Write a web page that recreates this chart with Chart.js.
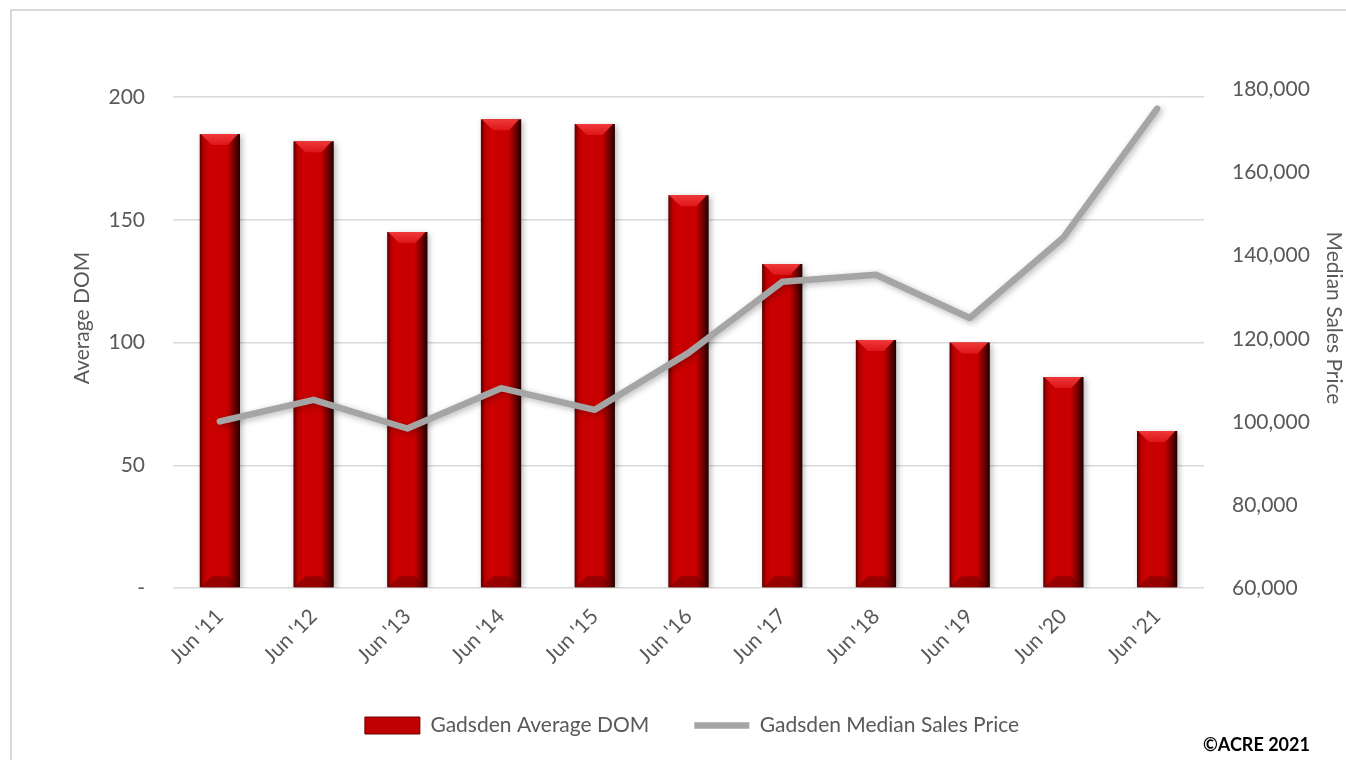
<!DOCTYPE html>
<html>
<head>
<meta charset="utf-8">
<title>Gadsden Average DOM / Median Sales Price</title>
<script src="https://cdn.jsdelivr.net/npm/chart.js@4.4.0/dist/chart.umd.min.js"></script>
<style>
  html, body { margin: 0; padding: 0; background: #fff; overflow: hidden; }
  #wrap { position: relative; width: 1346px; height: 760px; }
  #frame { position: absolute; left: 10px; top: 9px; width: 1400px; height: 800px; border: 2px solid #d9d9d9; pointer-events: none; }
  #credit { position: absolute; left: 1203px; top: 733px; font: bold 18px Lato, sans-serif; color: #000; }
</style>
</head>
<body>
<div id="wrap">
  <canvas id="chart" width="1346" height="760"></canvas>
  <div id="frame"></div>
  <div id="credit">©ACRE 2021</div>
</div>
<script>
// data
const labels = ["Jun '11", "Jun '12", "Jun '13", "Jun '14", "Jun '15", "Jun '16",
                "Jun '17", "Jun '18", "Jun '19", "Jun '20", "Jun '21"];
const avgDom = [185, 182, 145, 191, 189, 160, 132, 101, 100, 86, 64];
const medianPrice = [100100, 105300, 98400, 108100, 102900, 116600,
                     133700, 135400, 125000, 144400, 175400];
const domTicks = [0, 50, 100, 150, 200];
const priceTicks = [60000, 80000, 100000, 120000, 140000, 160000, 180000];

const BAR_PCT = 0.43;
const textColor = '#595959';
const font = { family: 'Lato, "Open Sans", sans-serif', size: 21 };

// red bar with darker edges, like the bevel in the excel chart
function barFill(c) {
  const xs = c.chart.scales.x;
  if (!xs || c.type !== 'data') return '#c00000';
  const cx = xs.getPixelForValue(c.dataIndex);
  const w = xs.width / labels.length * BAR_PCT;
  if (!isFinite(cx) || !isFinite(w) || w <= 0) return '#c00000';
  const g = c.chart.ctx.createLinearGradient(cx - w / 2, 0, cx + w / 2, 0);
  g.addColorStop(0, '#5a0000');
  g.addColorStop(0.1, '#b80000');
  g.addColorStop(0.22, '#cc0000');
  g.addColorStop(0.68, '#c80000');
  g.addColorStop(0.86, '#700000');
  g.addColorStop(1, '#200000');
  return g;
}

const bevelPlugin = {
  id: 'bevel',
  beforeDatasetDraw(chart) {
    const ctx = chart.ctx;
    ctx.save();
    ctx.shadowColor = 'rgba(0,0,0,0.28)';
    ctx.shadowBlur = 6;
    ctx.shadowOffsetX = 2;
    ctx.shadowOffsetY = 2;
  },
  afterDatasetDraw(chart, args) {
    const ctx = chart.ctx;
    ctx.restore();
    if (args.index !== 0) return;
    ctx.save();
    args.meta.data.forEach(bar => {
      const { x, y, base, width } = bar.getProps(['x', 'y', 'base', 'width'], true);
      const l = x - width / 2, r = x + width / 2;
      const d = Math.min(11, (base - y) / 2), inset = width * 0.3;
      const g = ctx.createLinearGradient(0, y, 0, y + d);
      g.addColorStop(0, '#f0383a');
      g.addColorStop(1, '#dc1618');
      ctx.fillStyle = g;
      ctx.beginPath();
      ctx.moveTo(l + 1, y); ctx.lineTo(r - 2, y);
      ctx.lineTo(r - inset, y + d); ctx.lineTo(l + inset, y + d);
      ctx.closePath(); ctx.fill();
      ctx.fillStyle = 'rgba(90,0,0,0.45)';
      ctx.beginPath();
      ctx.moveTo(l + 1, base); ctx.lineTo(r - 2, base);
      ctx.lineTo(r - inset, base - d); ctx.lineTo(l + inset, base - d);
      ctx.closePath(); ctx.fill();
    });
    ctx.restore();
  }
};

new Chart(document.getElementById('chart'), {
  data: {
    labels: labels,
    datasets: [{
      type: 'bar',
      label: 'Gadsden Average DOM',
      data: avgDom,
      yAxisID: 'yDom',
      backgroundColor: barFill,
      borderWidth: 0,
      barPercentage: BAR_PCT,
      categoryPercentage: 1,
      pointStyle: 'rect',
      order: 1
    }, {
      type: 'line',
      label: 'Gadsden Median Sales Price',
      data: medianPrice,
      yAxisID: 'yPrice',
      borderColor: '#a5a5a5',
      backgroundColor: '#a5a5a5',
      borderWidth: 6.5,
      borderCapStyle: 'round',
      borderJoinStyle: 'round',
      pointRadius: 0,
      pointStyle: 'line',
      tension: 0,
      order: 0
    }]
  },
  options: {
    responsive: false,
    animation: false,
    layout: { padding: { left: 38, right: 0, top: 48, bottom: 14 } },
    plugins: {
      tooltip: { enabled: false },
      legend: {
        position: 'bottom',
        labels: {
          color: textColor,
          font: font,
          usePointStyle: true,
          pointStyleWidth: 55,
          boxHeight: 17,
          padding: 45,
          sort: (a, b) => a.datasetIndex - b.datasetIndex,
          generateLabels(chart) {
            const items = Chart.defaults.plugins.legend.labels.generateLabels(chart);
            items.forEach(it => {
              if (it.datasetIndex === 0) { it.fillStyle = '#c00000'; it.strokeStyle = '#6a0000'; it.lineWidth = 1; }
            });
            return items;
          }
        }
      }
    },
    scales: {
      x: {
        grid: { display: false },
        border: { display: false },
        ticks: { color: textColor, font: font, minRotation: 45, maxRotation: 45, padding: 8 },
        afterFit(scale) { scale.height = 82; }
      },
      yDom: {
        position: 'left',
        min: 0,
        max: 220,
        afterBuildTicks(axis) { axis.ticks = domTicks.map(v => ({ value: v })); },
        grid: { color: '#d9d9d9', lineWidth: 1.5, drawTicks: false },
        border: { display: false },
        ticks: {
          color: textColor, font: font, padding: 28,
          callback: v => (v === 0 ? '-' : v)
        },
        title: { display: true, text: 'Average DOM', color: textColor, font: font, padding: { top: 32, bottom: 0 } },
        afterFit(scale) { scale.width = 135; }
      },
      yPrice: {
        position: 'right',
        min: 60000,
        max: 190000,
        afterBuildTicks(axis) { axis.ticks = priceTicks.map(v => ({ value: v })); },
        grid: { display: false, drawTicks: false },
        border: { display: false },
        ticks: {
          color: textColor, font: font, padding: 28,
          callback: v => v.toLocaleString('en-US')
        },
        title: { display: true, text: 'Median Sales Price', color: textColor, font: font, padding: { top: 0, bottom: 0 } },
        afterFit(scale) { scale.width = 142; }
      }
    }
  },
  plugins: [bevelPlugin]
});
</script>
</body>
</html>
